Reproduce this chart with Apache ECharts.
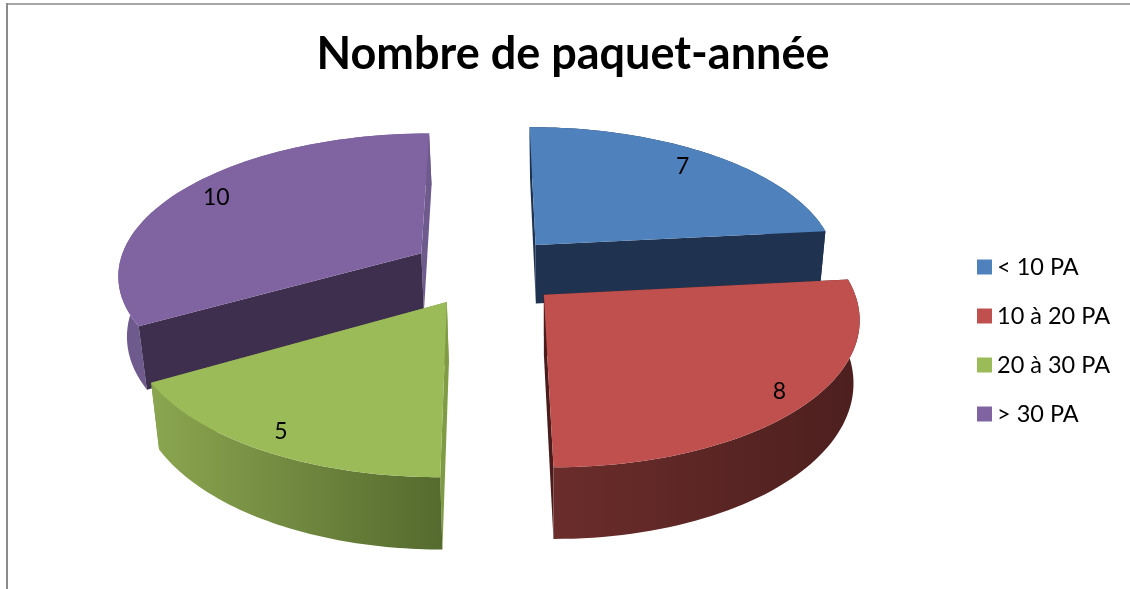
<!DOCTYPE html>
<html>
<head>
<meta charset="utf-8">
<style>html,body{margin:0;padding:0;background:#fff}#c{width:1130px;height:589px}</style>
<script src="https://cdn.jsdelivr.net/npm/echarts@6/dist/echarts.min.js"></script>
</head>
<body>
<div id="c"></div>
<script>
const titleText = 'Nombre de paquet-année';
const categories = ['< 10 PA', '10 à 20 PA', '20 à 30 PA', '> 30 PA'];
const values = [7, 8, 5, 10];
const topColors = ['#4F81BD', '#C0504D', '#9BBB59', '#8064A2'];
const cutStartColors = ['#1F3350', '#4A1D1C', '#7F9C45', '#3F2F4F'];
const cutEndColors = ['#1F3350', '#4A1D1C', '#7F9C45', '#6F5A8E'];
const sideColors = [
  ['#1F3350', '#1F3350'],
  ['#6B2D2B', '#4C1F1E'],
  ['#8BA650', '#556A2E'],
  ['#6F5A8E', '#6F5A8E']
];

// projection of the tilted pie plane
const view = { cx: 486, cy: 270.5, rx: 304, ry: 141, persp: 0.14, explode: 0.25, depth: 60, shrink: 0.98, vanishX: 550, labelR: 0.88 };
const labelNudge = [[-9, 2], [8, 2], [-6, 1], [6, 1]];
const total = values.reduce((a, b) => a + b, 0);

function project(X, Y, low) {
  const w = 1 + view.persp * Y;
  let x = view.cx + view.rx * X / w, y = view.cy - view.ry * Y / w;
  if (low) { x = view.vanishX + (x - view.vanishX) * view.shrink; y += view.depth / w; }
  return [x, y];
}
function meanY(pts) { return pts.reduce((s, p) => s + p[1], 0) / pts.length; }

function sliceRender(index) {
  const before = values.slice(0, index).reduce((a, b) => a + b, 0);
  return function (params, api) {
    const value = api.value(0);
    const a0 = before / total * 2 * Math.PI;
    const a1 = (before + value) / total * 2 * Math.PI;
    const mid = (a0 + a1) / 2;
    const ox = view.explode * Math.sin(mid), oy = view.explode * Math.cos(mid);
    const steps = 60;
    const topArc = [], lowArc = [];
    for (let i = 0; i <= steps; i++) {
      const a = a0 + (a1 - a0) * i / steps;
      topArc.push(project(ox + Math.sin(a), oy + Math.cos(a), false));
      lowArc.push(project(ox + Math.sin(a), oy + Math.cos(a), true));
    }
    const apexT = project(ox, oy, false), apexL = project(ox, oy, true);
    const faces = [
      { pts: [apexT, topArc[0], lowArc[0], apexL], fill: cutStartColors[index] },
      { pts: [apexT, topArc[steps], lowArc[steps], apexL], fill: cutEndColors[index] },
      { pts: topArc.concat(lowArc.slice().reverse()), fill: {
          type: 'linear', x: 0, y: 0, x2: 1, y2: 0,
          colorStops: [{ offset: 0, color: sideColors[index][0] }, { offset: 1, color: sideColors[index][1] }] } }
    ];
    faces.sort((p, q) => meanY(p.pts) - meanY(q.pts));
    const children = faces.map(f => ({
      type: 'polygon', silent: true,
      shape: { points: f.pts },
      style: { fill: f.fill, stroke: null }
    }));
    children.push({
      type: 'polygon', silent: true,
      shape: { points: [apexT].concat(topArc) },
      style: { fill: topColors[index], stroke: null }
    });
    const lp = project(ox + view.labelR * Math.sin(mid), oy + view.labelR * Math.cos(mid), false);
    children.push({
      type: 'text', silent: true,
      style: { x: lp[0] + labelNudge[index][0], y: lp[1] + labelNudge[index][1], text: String(value), fill: '#000', font: '23px Lato', align: 'center', verticalAlign: 'middle' }
    });
    return { type: 'group', children };
  };
}

const chart = echarts.init(document.getElementById('c'), null, { renderer: 'canvas' });
chart.setOption({
  animation: false,
  backgroundColor: '#ffffff',
  title: {
    text: titleText, left: 568, top: 27, textAlign: 'center',
    textStyle: { fontFamily: 'Lato', fontWeight: 'bold', fontSize: 45, color: '#000' }
  },
  legend: {
    data: categories, orient: 'vertical', left: 972, top: 250,
    icon: 'rect', itemWidth: 15, itemHeight: 15, itemGap: 25,
    textStyle: { fontFamily: 'Lato', fontSize: 23.5, color: '#000', lineHeight: 20 },
    selectedMode: false
  },
  graphic: [
    { type: 'line', silent: true, shape: { x1: 7, y1: 3, x2: 7, y2: 589 }, style: { stroke: '#8A8A8A', lineWidth: 2 } },
    { type: 'line', silent: true, shape: { x1: 6, y1: 4, x2: 1130, y2: 4 }, style: { stroke: '#8A8A8A', lineWidth: 1.5 } }
  ],
  series: categories.map((name, i) => ({
    type: 'custom', name, coordinateSystem: 'none',
    z: Math.cos((values.slice(0, i).reduce((a, b) => a + b, 0) + values[i] / 2) / total * 2 * Math.PI) > 0 ? 2 : 3,
    itemStyle: { color: topColors[i] },
    renderItem: sliceRender(i),
    data: [[values[i]]]
  }))
});
</script>
</body>
</html>
